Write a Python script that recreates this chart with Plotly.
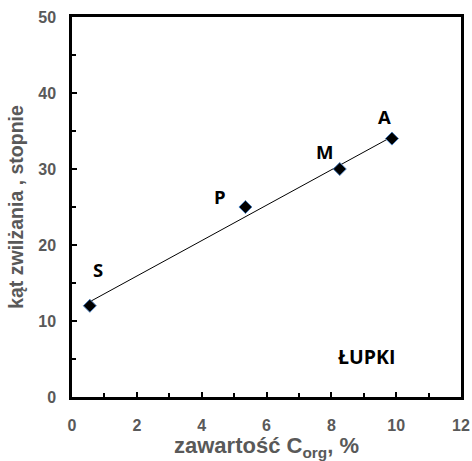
import numpy as np
import plotly.graph_objects as go

# Data
samples = ["S", "P", "M", "A"]
corg = [0.55, 5.35, 8.26, 9.87]
angle = [12, 25, 30, 34]
label_x = [0.8, 4.55, 7.8, 9.63]
label_y = [16.8, 26.4, 32.3, 36.9]

slope, intercept = np.polyfit(corg, angle, 1)
trend_x = [min(corg), max(corg)]
trend_y = [slope * v + intercept for v in trend_x]

GRAY = "#595959"
AX_FONT = "Liberation Sans, Arial, sans-serif"
LB_FONT = "Open Sans, Liberation Sans, sans-serif"

fig = go.Figure()
fig.add_trace(go.Scatter(x=trend_x, y=trend_y, mode="lines",
                         line=dict(color="black", width=1), showlegend=False, hoverinfo="skip"))
fig.add_trace(go.Scatter(x=corg, y=angle, mode="markers",
                         marker=dict(symbol="diamond", size=10, color="black",
                                     line=dict(color="#4a7ebb", width=1)),
                         showlegend=False))

for s, lx, ly in zip(samples, label_x, label_y):
    fig.add_annotation(x=lx, y=ly, text=f"<b>{s}</b>", showarrow=False,
                       font=dict(family=LB_FONT, size=18.5, color="black"))
fig.add_annotation(x=9.1, y=5.3, text="<b>ŁUPKI</b>", showarrow=False,
                   font=dict(family=LB_FONT, size=19.5, color="black"))

fig.update_layout(
    width=472, height=461,
    margin=dict(l=72, r=11, t=17, b=64),
    plot_bgcolor="white", paper_bgcolor="white",
    font=dict(family=AX_FONT, color=GRAY),
)
fig.update_xaxes(range=[0, 12], dtick=2, ticks="inside", ticklen=5, tickwidth=1.5, tickcolor="black",
                 showline=True, linecolor="black", linewidth=2.5, mirror=True, showgrid=False, zeroline=False,
                 automargin=False, ticklabelstandoff=12,
                 minor=dict(dtick=1, ticks="inside", ticklen=4, tickwidth=1.5, tickcolor="black"),
                 tickfont=dict(family=AX_FONT, size=16, color=GRAY, weight="bold"),
                 title=dict(text="<b>zawartość C<sub>org</sub>, %</b>", standoff=5,
                            font=dict(family=AX_FONT, size=22, color=GRAY)))
fig.update_yaxes(range=[0, 50], dtick=10, ticks="inside", ticklen=5, tickwidth=1.5, tickcolor="black",
                 showline=True, linecolor="black", linewidth=2.5, mirror=True, showgrid=False, zeroline=False,
                 automargin=False, ticklabelstandoff=10,
                 minor=dict(dtick=5, ticks="inside", ticklen=4, tickwidth=1.5, tickcolor="black"),
                 tickfont=dict(family=AX_FONT, size=16, color=GRAY, weight="bold"),
                 title=dict(text="<b>kąt zwilżania , stopnie</b>", standoff=10,
                            font=dict(family=AX_FONT, size=19.5, color=GRAY)))

fig.write_html("out.html", post_script="document.body.style.margin='0';",
               config={"displayModeBar": False})
